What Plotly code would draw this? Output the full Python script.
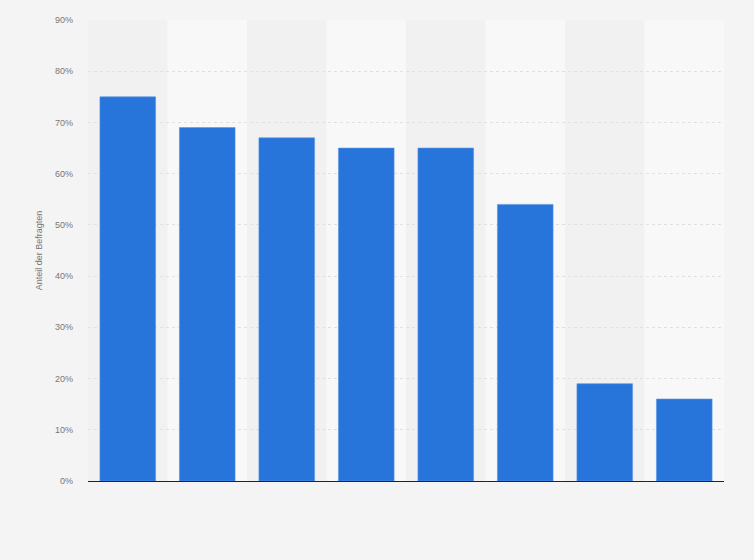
import plotly.graph_objects as go

categories = ["1", "2", "3", "4", "5", "6", "7", "8"]
values = [75, 69, 67, 65, 65, 54, 19, 16]
y_ticks = [0, 10, 20, 30, 40, 50, 60, 70, 80, 90]
y_tick_labels = [f"{v}%" for v in y_ticks]

fig = go.Figure()

fig.add_trace(go.Bar(
    x=categories,
    y=values,
    marker=dict(color="#2775db", line=dict(color="#5b95e4", width=0.6)),
    width=0.7,
    hoverinfo="y",
))

# alternating column shading behind the bars
for i in range(len(categories)):
    fig.add_shape(
        type="rect", xref="x", yref="y",
        x0=i - 0.5, x1=i + 0.5, y0=0, y1=90,
        fillcolor="#f1f1f1" if i % 2 == 0 else "#f8f8f8",
        line=dict(width=0), layer="below",
    )

fig.update_layout(
    width=754, height=560,
    margin=dict(l=88, r=30, t=20, b=79),
    paper_bgcolor="#f4f4f4",
    plot_bgcolor="#f4f4f4",
    showlegend=False,
    bargap=0.3,
    font=dict(family="Arial, Liberation Sans, sans-serif", size=9, color="#777777"),
    xaxis=dict(
        showticklabels=False,
        showgrid=False,
        showline=True, linecolor="#222222", linewidth=1.2,
        range=[-0.5, len(categories) - 0.5],
        ticks="",
    ),
    yaxis=dict(
        range=[0, 90],
        tickmode="array",
        tickvals=y_ticks,
        ticktext=y_tick_labels,
        ticklabelstandoff=14,
        showgrid=True, gridcolor="#e0e0e0", griddash="dot", gridwidth=1,
        zeroline=False,
        ticks="", ticklen=0,
        title=dict(text="Anteil der Befragten", font=dict(size=9, color="#777777"), standoff=10),
        layer="above traces",
    ),
)

fig.write_html("out.html", config={"displayModeBar": False},
               post_script="document.body.style.margin='0';")
